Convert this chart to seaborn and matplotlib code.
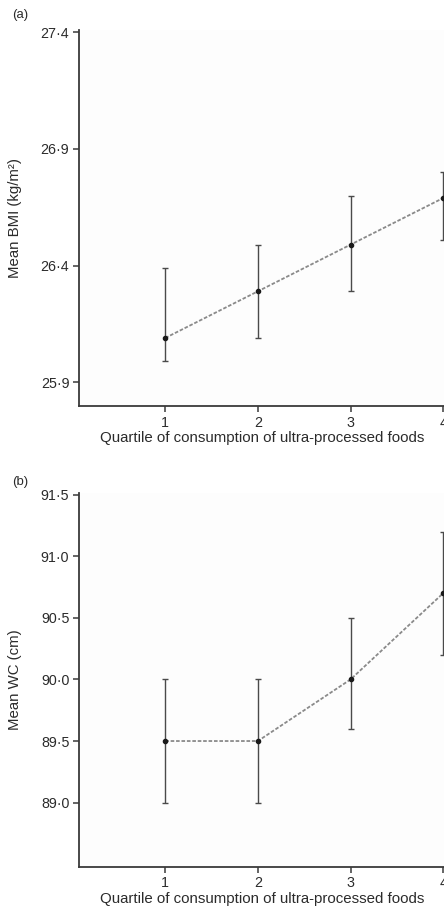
"""
Mean BMI and waist circumference by quartile of ultra-processed food consumption.
Two stacked panels, dashed line with means and asymmetric 95% CI bars.
"""

import numpy as np
import pandas as pd
import matplotlib
matplotlib.use("Agg")
import matplotlib.pyplot as plt
import seaborn as sns

# Data
QUARTILES = [1, 2, 3, 4]

BMI_MEAN = [26.09, 26.29, 26.49, 26.69]
BMI_LOW = [25.99, 26.09, 26.29, 26.51]
BMI_HIGH = [26.39, 26.49, 26.70, 26.80]
BMI_TICKS = [25.9, 26.4, 26.9, 27.4]
BMI_TICKLABELS = ["25·9", "26·4", "26·9", "27·4"]

WC_MEAN = [89.5, 89.5, 90.0, 90.7]
WC_LOW = [89.0, 89.0, 89.6, 90.2]
WC_HIGH = [90.0, 90.0, 90.5, 91.2]
WC_TICKS = [89.0, 89.5, 90.0, 90.5, 91.0, 91.5]
WC_TICKLABELS = ["89·0", "89·5", "90·0", "90·5", "91·0", "91·5"]

XLABEL = "Quartile of consumption of ultra-processed foods"

sns.set_style("ticks")
plt.rcParams['font.family'] = ['Liberation Sans', 'DejaVu Sans']
TEXT = "#2b2b2b"
SPINE = "#3a3a3a"


def draw_panel(ax, mean, low, high, ticks, ticklabels, ylim, ylabel):
    df = pd.DataFrame({"quartile": QUARTILES, "mean": mean})
    err = np.array([np.array(mean) - np.array(low), np.array(high) - np.array(mean)])

    ax.errorbar(df["quartile"], df["mean"], yerr=err, fmt="none",
                ecolor="#4a4a4a", elinewidth=1.0, capsize=2.2, capthick=1.0, zorder=2)
    sns.lineplot(data=df, x="quartile", y="mean", ax=ax, color="#8a8a8a",
                 linestyle=(0, (2.0, 1.0)), linewidth=1.3, zorder=3)
    ax.scatter(df["quartile"], df["mean"], s=9, color="#1a1a1a", zorder=4)

    ax.set_xlim(0.07, 4.3)
    ax.set_ylim(*ylim)
    ax.set_xticks(QUARTILES)
    ax.set_xticklabels([str(q) for q in QUARTILES])
    ax.set_yticks(ticks)
    ax.set_yticklabels(ticklabels)

    for side in ["top", "right"]:
        ax.spines[side].set_visible(False)
    for side in ["left", "bottom"]:
        ax.spines[side].set_color(SPINE)
        ax.spines[side].set_linewidth(1.3)

    ax.tick_params(axis="both", length=4, width=1.1, color=SPINE,
                   labelsize=10.3, labelcolor=TEXT, pad=3)
    ax.set_xlabel(XLABEL, fontsize=10.8, color=TEXT, labelpad=1, x=0.468)
    ax.set_ylabel(ylabel, fontsize=10.8, color=TEXT)
    ax.yaxis.set_label_coords(-0.145, 0.5)
    ax.set_facecolor("#fdfdfd")


fig = plt.figure(figsize=(4.44, 9.09), dpi=100)

ax_a = fig.add_axes([0.178, 0.553, 0.883, 0.414])
draw_panel(ax_a, BMI_MEAN, BMI_LOW, BMI_HIGH, BMI_TICKS, BMI_TICKLABELS,
           (25.797, 27.41), "Mean BMI (kg/m²)")

ax_b = fig.add_axes([0.178, 0.0465, 0.883, 0.4108])
draw_panel(ax_b, WC_MEAN, WC_LOW, WC_HIGH, WC_TICKS, WC_TICKLABELS,
           (88.48, 91.51), "Mean WC (cm)")

fig.text(0.027, 0.983, "(a)", fontsize=9.5, color=TEXT, va="center")
fig.text(0.027, 0.470, "(b)", fontsize=9.5, color=TEXT, va="center")

fig.savefig("out.png", dpi=100)
